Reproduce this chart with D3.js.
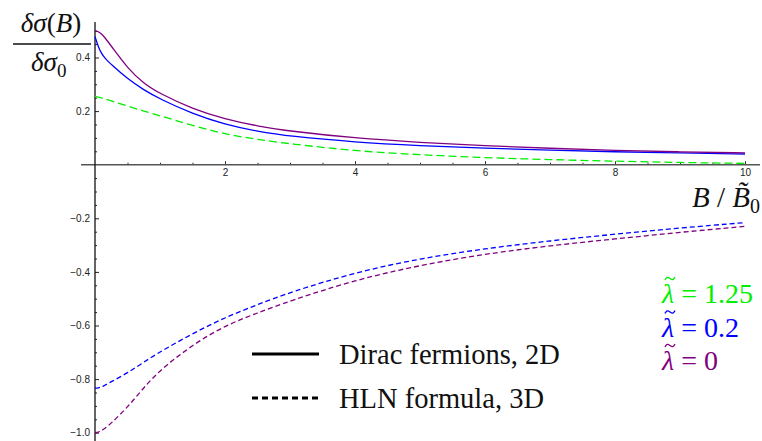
<!DOCTYPE html>
<html>
<head>
<meta charset="utf-8">
<script src="https://cdn.jsdelivr.net/npm/d3@7"></script>
<style>
  body { margin: 0; background: #fff; }
  svg { display: block; }
  .tick text { font-family: "Liberation Sans", Arial, sans-serif; font-size: 10px; fill: #222; }
</style>
</head>
<body>
<div id="chart"></div>
<script>
// B / B0 sample points
var bVals = [0, 0.05, 0.1, 0.15, 0.25, 0.5, 0.75, 1, 1.5, 2, 2.5, 3, 4, 5, 6, 7, 8, 9, 10];

// Dirac fermions, 2D (solid)
var dirac0  = [0.500, 0.497, 0.488, 0.475, 0.443, 0.360, 0.303, 0.265, 0.208, 0.170, 0.144, 0.125, 0.099, 0.083, 0.071, 0.061, 0.053, 0.048, 0.044];
var dirac02 = [0.478, 0.440, 0.415, 0.398, 0.374, 0.320, 0.279, 0.245, 0.190, 0.150, 0.124, 0.106, 0.084, 0.071, 0.061, 0.054, 0.048, 0.044, 0.040];

// HLN formula, 3D (dashed)
var hln125 = [0.254, 0.252, 0.249, 0.246, 0.238, 0.219, 0.200, 0.183, 0.146, 0.114, 0.094, 0.078, 0.051, 0.037, 0.026, 0.019, 0.013, 0.008, 0.005];
var hln02  = [-0.834, -0.833, -0.830, -0.823, -0.810, -0.777, -0.737, -0.698, -0.630, -0.570, -0.522, -0.476, -0.402, -0.350, -0.313, -0.284, -0.259, -0.236, -0.216];
var hln0   = [-1.000, -0.998, -0.993, -0.984, -0.965, -0.905, -0.832, -0.766, -0.672, -0.600, -0.553, -0.508, -0.430, -0.375, -0.333, -0.302, -0.277, -0.252, -0.230];

var xMajor = [2, 4, 6, 8, 10];
var yMajor = [-1.0, -0.8, -0.6, -0.4, -0.2, 0.2, 0.4];

var lambdaLabels = ["1.25", "0.2", "0"];

var green = "#00ee00", blue = "#0000ff", purple = "#800080";
var serif = "Liberation Serif";

var width = 762, height = 441;

var svg = d3.select("#chart").append("svg")
  .attr("width", width)
  .attr("height", height);

var x = d3.scaleLinear().domain([0, 10]).range([95, 745]);
var y = d3.scaleLinear().domain([-1, 0.5]).range([432.7, 30.7]);

// minor ticks
var xMinor = d3.range(0.5, 10.01, 0.5).filter(function(d){ return d % 2 !== 0; });
var yMinor = d3.range(-1.0, 0.501, 0.05).filter(function(d){
  return Math.abs(d) > 0.01 && Math.abs(Math.round(d * 5) - d * 5) > 0.01;
});

// x axis
svg.append("g")
  .attr("transform", "translate(0," + y(0) + ")")
  .call(d3.axisBottom(x).tickValues(xMinor).tickSize(-2).tickFormat(""))
  .call(function(g){ g.select(".domain").remove(); g.selectAll("line").attr("stroke", "#333"); });

svg.append("g")
  .attr("transform", "translate(0," + y(0) + ")")
  .call(d3.axisBottom(x).tickValues(xMajor).tickSize(-3.5).tickPadding(4).tickFormat(d3.format("d")))
  .call(function(g){ g.select(".domain").remove(); g.selectAll("line").attr("stroke", "#333"); });

svg.append("line")
  .attr("x1", x(-0.215)).attr("x2", x(10.23))
  .attr("y1", y(0)).attr("y2", y(0))
  .attr("stroke", "#555").attr("stroke-width", 1.6);

// y axis
svg.append("g")
  .attr("transform", "translate(" + x(0) + ",0)")
  .call(d3.axisLeft(y).tickValues(yMinor).tickSize(-2).tickFormat(""))
  .call(function(g){ g.select(".domain").remove(); g.selectAll("line").attr("stroke", "#222"); });

svg.append("g")
  .attr("transform", "translate(" + x(0) + ",0)")
  .call(d3.axisLeft(y).tickValues(yMajor).tickSize(-4).tickPadding(5).tickFormat(d3.format(".1f")))
  .call(function(g){ g.select(".domain").remove(); g.selectAll("line").attr("stroke", "#222"); });

svg.append("line")
  .attr("x1", x(0)).attr("x2", x(0))
  .attr("y1", 22).attr("y2", height)
  .attr("stroke", "#111").attr("stroke-width", 1.3);

// curves
var line = d3.line()
  .x(function(d){ return x(d[0]); })
  .y(function(d){ return y(d[1]); })
  .curve(d3.curveBasis);

var series = [
  { vals: hln0,    color: purple, dash: "5,3" },
  { vals: hln02,   color: blue,   dash: "5,3" },
  { vals: hln125,  color: green,  dash: "8,4" },
  { vals: dirac02, color: blue,   dash: null },
  { vals: dirac0,  color: purple, dash: null }
];

svg.selectAll(".curve")
  .data(series)
  .enter().append("path")
  .attr("class", "curve")
  .attr("fill", "none")
  .attr("stroke", function(d){ return d.color; })
  .attr("stroke-width", 1.3)
  .attr("stroke-dasharray", function(d){ return d.dash; })
  .attr("d", function(d){ return line(d3.zip(bVals, d.vals)); });

// y label (fraction)
svg.append("text").attr("x", 51).attr("y", 32).attr("text-anchor", "middle")
  .attr("font-family", serif).attr("font-size", 27).attr("fill", "#111")
  .html('<tspan font-style="italic">δσ</tspan>(<tspan font-style="italic">B</tspan>)');
svg.append("line").attr("x1", 13).attr("x2", 91).attr("y1", 44).attr("y2", 44)
  .attr("stroke", "#111").attr("stroke-width", 1.3);
svg.append("text").attr("x", 31).attr("y", 71)
  .attr("font-family", serif).attr("font-size", 27).attr("fill", "#111")
  .html('<tspan font-style="italic">δσ</tspan><tspan dy="6" font-size="19">0</tspan>');

// x label
svg.append("text")
  .attr("x", 760).attr("y", 207).attr("text-anchor", "end")
  .attr("font-family", serif).attr("font-size", 29).attr("fill", "#111")
  .html('<tspan font-style="italic">B</tspan> / <tspan font-style="italic">B\u0303</tspan><tspan dy="6" font-size="20">0</tspan>');

// lambda labels
var lamColors = [green, blue, purple];
var tilde = d3.line().curve(d3.curveBasis);
var lam = svg.selectAll(".lam")
  .data(lambdaLabels)
  .enter().append("g")
  .attr("class", "lam")
  .attr("transform", function(d, i){ return "translate(662," + (303 + i * 33.5) + ")"; });
lam.append("text")
  .attr("font-family", serif).attr("font-size", 28)
  .attr("fill", function(d, i){ return lamColors[i]; })
  .html(function(d){ return '<tspan font-style="italic">λ</tspan> = ' + d; });
lam.append("path")
  .attr("d", tilde([[3, -23], [5, -26.5], [8, -24.5], [11, -22.5], [13, -26]]))
  .attr("fill", "none")
  .attr("stroke", function(d, i){ return lamColors[i]; })
  .attr("stroke-width", 1.3);

// legend
var legend = [
  { label: "Dirac fermions, 2D", dash: null },
  { label: "HLN formula, 3D", dash: "6,4" }
];
var lg = svg.selectAll(".leg").data(legend).enter().append("g")
  .attr("transform", function(d, i){ return "translate(0," + (354 + i * 44) + ")"; });
lg.append("line")
  .attr("x1", 252).attr("x2", 319)
  .attr("stroke", "#000").attr("stroke-width", 3)
  .attr("stroke-dasharray", function(d){ return d.dash; });
lg.append("text")
  .attr("x", 339).attr("y", 10)
  .attr("font-family", serif).attr("font-size", 28.5).attr("fill", "#111")
  .text(function(d){ return d.label; });
</script>
</body>
</html>
